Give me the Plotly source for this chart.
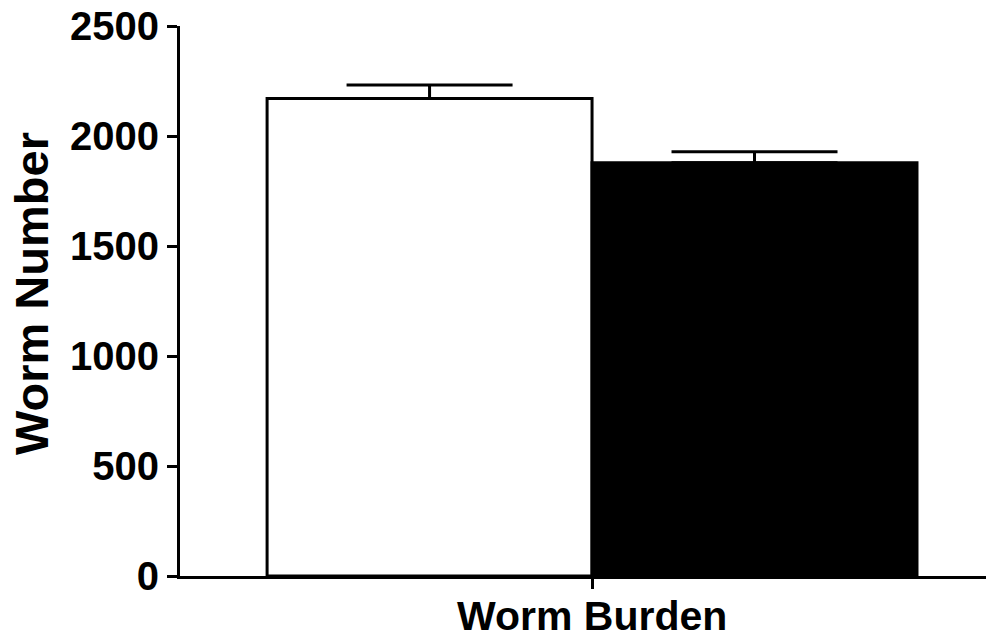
import plotly.graph_objects as go

groups = ["Group 1", "Group 2"]
positions = [0, 1]
values = [2170, 1878]
errors = [62, 50]
fill_colors = ["white", "black"]
category_label = "Worm Burden"
category_pos = 0.5
y_title = "Worm Number"
y_ticks = [0, 500, 1000, 1500, 2000, 2500]

fig = go.Figure()
for pos, name, v, e, c in zip(positions, groups, values, errors, fill_colors):
    fig.add_trace(go.Bar(
        x=[pos], y=[v], name=name, width=1,
        marker=dict(color=c, line=dict(color="black", width=3)),
        error_y=dict(type="data", symmetric=False, array=[e], arrayminus=[0],
                     color="black", thickness=3, width=83),
    ))

font_family = "Liberation Sans, Arial, sans-serif"
# page body has an 8px default margin; figure sized to fit the 994x636 window
fig.update_layout(
    width=986, height=628,
    margin=dict(l=172, r=0, t=18, b=60),
    paper_bgcolor="white", plot_bgcolor="white",
    showlegend=False, barmode="overlay",
    font=dict(family=font_family, color="black"),
)
fig.update_xaxes(
    range=[-0.768, 1.737], showgrid=False, zeroline=False, automargin=False,
    showline=True, linewidth=3, linecolor="black",
    ticks="outside", ticklen=10, tickwidth=3, tickcolor="black",
    tickvals=[category_pos], showticklabels=False,
)
fig.add_annotation(
    x=category_pos, xref="x", y=0, yref="paper", yanchor="top", yshift=-15,
    text=category_label, showarrow=False,
    font=dict(size=41, weight="bold", family=font_family, color="black"),
)
fig.add_annotation(
    x=0, xref="paper", y=0.5, yref="paper", xanchor="center", yanchor="middle",
    xshift=-149, yshift=7, textangle=-90,
    text=y_title, showarrow=False,
    font=dict(size=47, weight="bold", family=font_family, color="black"),
)
fig.update_yaxes(
    range=[0, 2500], showgrid=False, zeroline=False, automargin=False,
    showline=True, linewidth=3, linecolor="black",
    ticks="outside", ticklen=10, tickwidth=3, tickcolor="black",
    tickvals=y_ticks, ticktext=[str(t) for t in y_ticks],
    ticklabeloverflow="allow",
    tickfont=dict(size=40, weight="bold", family=font_family),
)
fig.write_html("out.html")
